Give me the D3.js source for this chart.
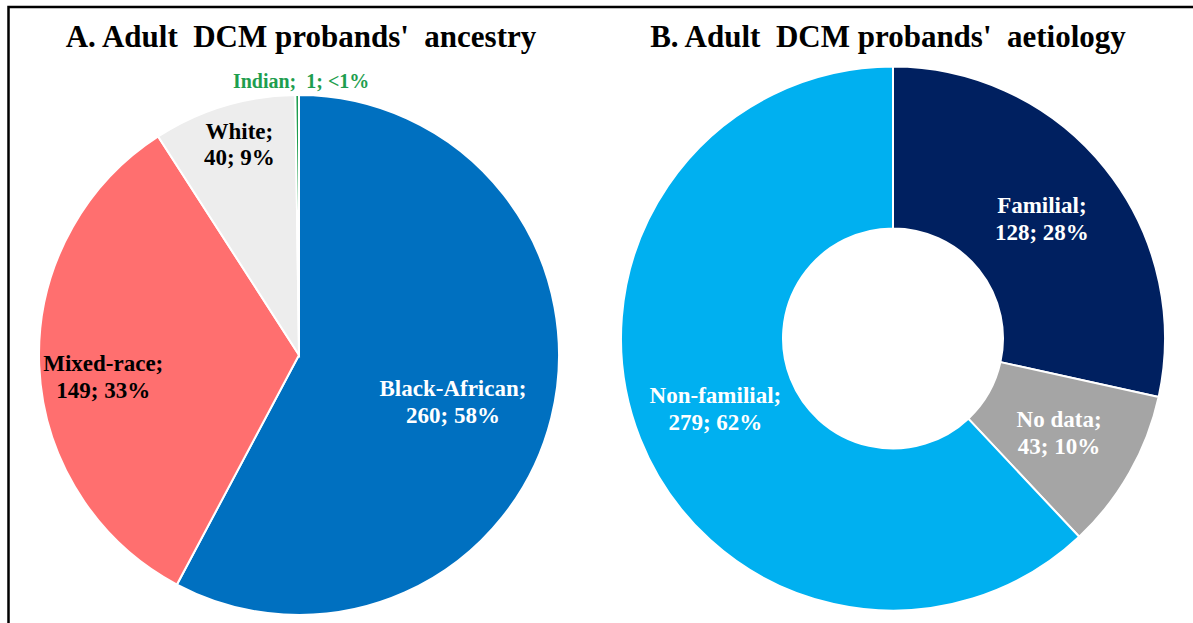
<!DOCTYPE html>
<html lang="en">
<head>
    <meta charset="UTF-8">
    <title>Adult DCM probands</title>
    <script src="https://d3js.org/d3.v7.min.js"></script>
    <style>
        body {
            margin: 0;
            background: #fff;
            overflow: hidden;
        }
        text {
            font-family: "Liberation Serif", "Times New Roman", serif;
            font-weight: bold;
        }
    </style>
</head>
<body>
    <svg id="chart" width="1193" height="623"></svg>

    <script>
        // Panel A - ancestry
        const ancestryLabels = ["Black-African", "Mixed-race", "White", "Indian"];
        const ancestryCounts = [260, 149, 40, 1];
        const ancestryPct = ["58%", "33%", "9%", "<1%"];

        // Panel B - aetiology
        const aetiologyLabels = ["Familial", "No data", "Non-familial"];
        const aetiologyCounts = [128, 43, 279];
        const aetiologyPct = ["28%", "10%", "62%"];

        const ancestryColors = ["#0070C0", "#FF6F6F", "#EDEDED", "#1E9E4F"];
        const ancestryText = ["#fff", "#000", "#000", "#1E9E4F"];
        // label placement: radius (px) and angle nudge (deg) from the slice middle
        const ancestryLabelR = [161, 197, 219, 274];
        const ancestryLabelDA = [3, -4, 1, 0];

        const aetiologyColors = ["#002060", "#A5A5A5", "#00B0F0"];

        const svg = d3.select('#chart');

        // frame (only top and left edges are visible)
        svg.append('path')
            .attr('d', 'M8.5,623 V7 H1193')
            .attr('fill', 'none')
            .attr('stroke', '#000')
            .attr('stroke-width', 2.5);

        const CONFIG = {
            a: { cx: 299, cy: 355, r: 260 },
            b: { cx: 893, cy: 338.5, r: 272, inner: 110 },
            fontSize: 23,
            lineGap: 26.5
        };

        const pie = d3.pie().sort(null).value(d => d.value);

        function drawLabel(g, x, y, lines, color, size) {
            const t = g.append('text')
                .attr('text-anchor', 'middle')
                .attr('fill', color)
                .attr('font-size', size)
                .style('white-space', 'pre');
            const start = y - (lines.length - 1) * CONFIG.lineGap / 2 + size * 0.33;
            lines.forEach((s, i) => {
                t.append('tspan')
                    .attr('x', x)
                    .attr('y', start + i * CONFIG.lineGap)
                    .text(s);
            });
        }

        // ---- Panel A ----
        const dataA = ancestryLabels.map((k, i) => ({ key: k, value: ancestryCounts[i], pct: ancestryPct[i], i }));
        const gA = svg.append('g').attr('transform', `translate(${CONFIG.a.cx},${CONFIG.a.cy})`);
        const arcA = d3.arc().innerRadius(0).outerRadius(CONFIG.a.r);

        gA.selectAll('path')
            .data(pie(dataA))
            .join('path')
            .attr('d', arcA)
            .attr('fill', d => ancestryColors[d.data.i])
            .attr('stroke', '#fff')
            .attr('stroke-width', 2);

        pie(dataA).forEach(d => {
            const mid = (d.startAngle + d.endAngle) / 2 + ancestryLabelDA[d.data.i] * Math.PI / 180;
            const rr = ancestryLabelR[d.data.i];
            const x = rr * Math.sin(mid);
            const y = -rr * Math.cos(mid);
            if (d.data.key === 'Indian') {
                drawLabel(gA, x + 4, y, [`${d.data.key};  ${d.data.value}; ${d.data.pct}`], ancestryText[d.data.i], 20);
            } else {
                drawLabel(gA, x, y, [`${d.data.key};`, `${d.data.value}; ${d.data.pct}`], ancestryText[d.data.i], CONFIG.fontSize);
            }
        });

        // ---- Panel B ----
        const dataB = aetiologyLabels.map((k, i) => ({ key: k, value: aetiologyCounts[i], pct: aetiologyPct[i], i }));
        const gB = svg.append('g').attr('transform', `translate(${CONFIG.b.cx},${CONFIG.b.cy})`);
        const arcB = d3.arc().innerRadius(CONFIG.b.inner).outerRadius(CONFIG.b.r);

        gB.selectAll('path')
            .data(pie(dataB))
            .join('path')
            .attr('d', arcB)
            .attr('fill', d => aetiologyColors[d.data.i])
            .attr('stroke', '#fff')
            .attr('stroke-width', 2);

        pie(dataB).forEach(d => {
            const [x, y] = arcB.centroid(d);
            drawLabel(gB, x, y, [`${d.data.key};`, `${d.data.value}; ${d.data.pct}`], '#fff', CONFIG.fontSize);
        });

        // titles
        svg.append('text')
            .attr('x', 301).attr('y', 47)
            .attr('text-anchor', 'middle')
            .attr('font-size', 31)
            .style('white-space', 'pre')
            .text("A. Adult  DCM probands'  ancestry");

        svg.append('text')
            .attr('x', 888).attr('y', 47)
            .attr('text-anchor', 'middle')
            .attr('font-size', 31)
            .style('white-space', 'pre')
            .text("B. Adult  DCM probands'  aetiology");
    </script>
</body>
</html>
